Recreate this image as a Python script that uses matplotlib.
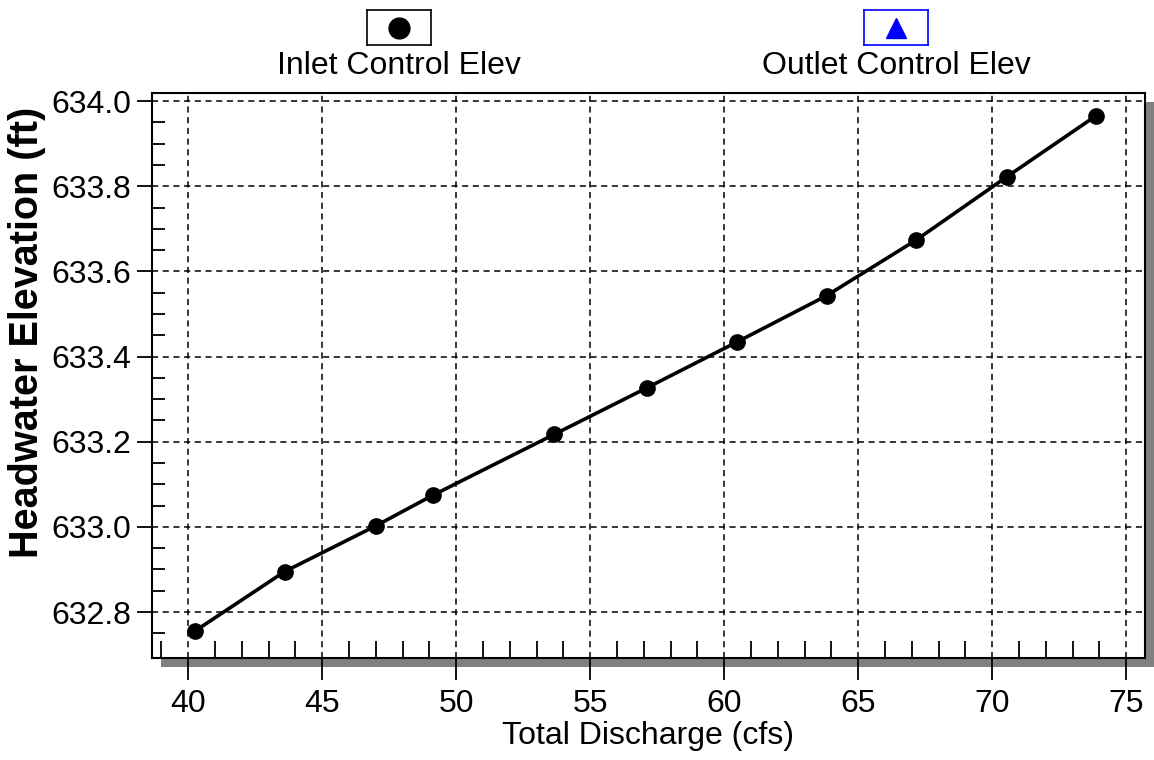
import matplotlib
matplotlib.use("Agg")
import numpy as np
import matplotlib.pyplot as plt
from matplotlib.patches import Rectangle
from matplotlib.ticker import MultipleLocator, FixedLocator, FormatStrFormatter

plt.rcParams['font.family'] = ['Liberation Sans', 'DejaVu Sans']

# Datos
discharge = [40.27, 43.60, 46.99, 49.12, 53.65, 57.13, 60.47, 63.82, 67.17, 70.54, 73.86]
inlet_elev = [632.756, 632.895, 633.002, 633.074, 633.217, 633.327,
              633.434, 633.543, 633.674, 633.822, 633.965]
x_ticks = [40, 45, 50, 55, 60, 65, 70, 75]
y_ticks = [632.8, 633.0, 633.2, 633.4, 633.6, 633.8, 634.0]
legend_labels = ["Inlet Control Elev", "Outlet Control Elev"]

W, H = 1154, 760
fig = plt.figure(figsize=(W / 100, H / 100), dpi=100)

# caja del area de grafico en pixeles
L, R, T, B = 152, 1145, 93, 658
ax = fig.add_axes([L / W, 1 - B / H, (R - L) / W, (B - T) / H])
ax.set_zorder(2)

# sombra gris
sh = 9
fig.patches.append(Rectangle(((L + sh) / W, 1 - (B + sh) / H), (R - L) / W, (B - T) / H,
                             transform=fig.transFigure, facecolor='#808080',
                             edgecolor='none', zorder=1))

ax.plot(discharge, inlet_elev, color='black', lw=2.6, marker='o', ms=11,
        markerfacecolor='black', markeredgecolor='black', zorder=3)

ax.set_xlim(38.65, 75.7)
ax.set_ylim(632.692, 634.019)
ax.set_xticks(x_ticks)
ax.set_yticks(y_ticks)
ax.yaxis.set_major_formatter(FormatStrFormatter('%.1f'))
ax.xaxis.set_minor_locator(MultipleLocator(1))
ax.yaxis.set_minor_locator(FixedLocator(np.arange(632.75, 634.0, 0.05)))

ax.grid(True, which='major', color='black', linestyle=(0, (4, 3)), lw=1.1)
ax.tick_params(axis='x', which='major', direction='out', length=16, width=1.3,
               labelsize=23, pad=6)
ax.tick_params(axis='y', which='major', direction='out', length=11, width=1.3,
               labelsize=23, pad=4)
ax.tick_params(axis='x', which='minor', direction='in', length=12, width=1.3)
ax.tick_params(axis='y', which='minor', direction='in', length=9.5, width=1.3)
for s in ax.spines.values():
    s.set_linewidth(1.5)
    s.set_color('black')

ax.set_xlabel("Total Discharge (cfs)", fontsize=23, labelpad=2)
fig.text(27 / W, 1 - 332 / H, "Headwater Elevation (ft)", fontsize=28.5,
         fontweight='bold', rotation=90, ha='center', va='center')

# leyenda superior
for cx, label, mk, col, ms in [(399, legend_labels[0], 'o', 'black', 15),
                               (896, legend_labels[1], '^', '#0000ff', 15)]:
    bw, bh = 64, 35
    lax = fig.add_axes([(cx - bw / 2) / W, 1 - 45 / H, bw / W, bh / H])
    lax.plot([0.5], [0.5], marker=mk, ms=ms, color=col, ls='none')
    lax.set_xlim(0, 1)
    lax.set_ylim(0, 1)
    lax.set_xticks([])
    lax.set_yticks([])
    for s in lax.spines.values():
        s.set_color(col)
        s.set_linewidth(1.2)
    fig.text(cx / W, 1 - 66 / H, label, fontsize=23, ha='center', va='center')

fig.savefig("out.png", dpi=100)
